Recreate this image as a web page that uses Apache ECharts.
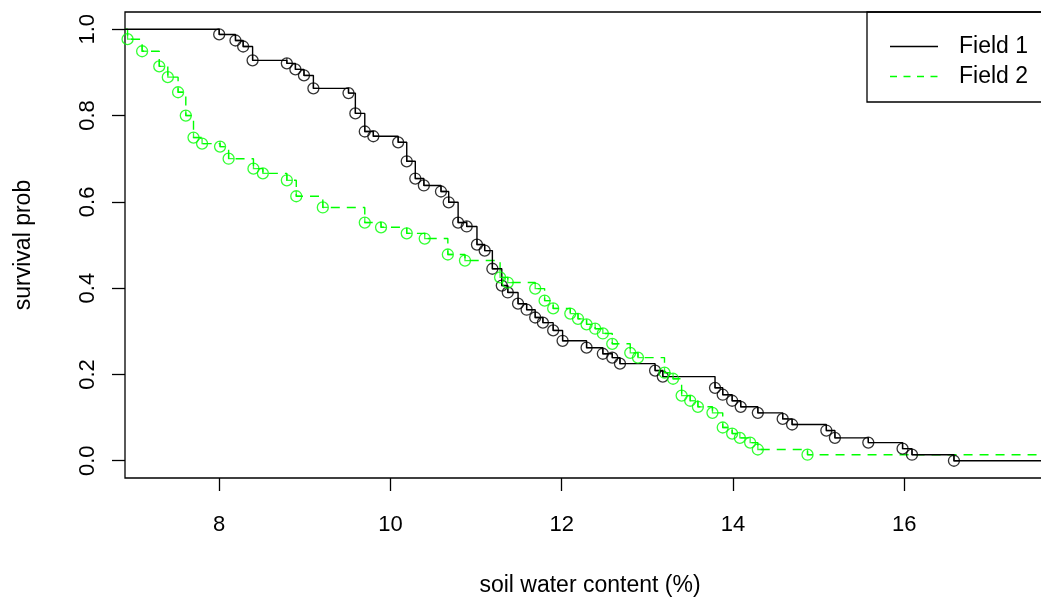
<!DOCTYPE html>
<html>
<head>
<meta charset="utf-8">
<script src="https://cdn.jsdelivr.net/npm/echarts@6/dist/echarts.min.js"></script>
<style>
html,body{margin:0;padding:0;background:#fff;overflow:hidden;}
#chart{width:1041px;height:602px;}
</style>
</head>
<body>
<div id="chart"></div>
<script>
// ---- data ----
const xTicks = [8, 10, 12, 14, 16];
const yTicks = [0, 0.2, 0.4, 0.6, 0.8, 1.0];
const yTickLabels = ['0.0', '0.2', '0.4', '0.6', '0.8', '1.0'];

const field1X = [8.0, 8.19, 8.28, 8.39, 8.79, 8.89, 8.99, 9.10, 9.51, 9.59, 9.70, 9.80, 10.09, 10.19, 10.29, 10.39,
  10.59, 10.68, 10.79, 10.89, 11.01, 11.10, 11.19, 11.30, 11.37, 11.49, 11.59, 11.69, 11.78, 11.90, 12.01,
  12.29, 12.48, 12.59, 12.68, 13.09, 13.18, 13.79, 13.88, 13.99, 14.09, 14.29, 14.58, 14.69, 15.09, 15.19,
  15.58, 15.98, 16.09, 16.58];
const field1S = [0.988, 0.974, 0.960, 0.928, 0.921, 0.907, 0.893, 0.863, 0.852, 0.805, 0.763, 0.752, 0.738, 0.694, 0.654, 0.638,
  0.624, 0.599, 0.552, 0.543, 0.501, 0.487, 0.445, 0.406, 0.390, 0.364, 0.350, 0.332, 0.320, 0.302, 0.278,
  0.262, 0.248, 0.239, 0.225, 0.209, 0.195, 0.169, 0.153, 0.139, 0.125, 0.111, 0.097, 0.084, 0.070, 0.053,
  0.042, 0.028, 0.014, 0.0];

const field2X = [6.93, 7.10, 7.30, 7.40, 7.52, 7.61, 7.70, 7.80, 8.01, 8.11, 8.40, 8.51, 8.79, 8.90, 9.21, 9.70,
  9.89, 10.19, 10.40, 10.67, 10.87, 11.28, 11.37, 11.69, 11.80, 11.90, 12.10, 12.19, 12.29, 12.39, 12.48,
  12.59, 12.80, 12.89, 13.20, 13.30, 13.40, 13.50, 13.59, 13.76, 13.88, 13.99, 14.08, 14.20, 14.29, 14.87];
const field2S = [0.977, 0.949, 0.914, 0.889, 0.854, 0.800, 0.749, 0.735, 0.728, 0.700, 0.677, 0.666, 0.650, 0.613, 0.587, 0.552,
  0.541, 0.527, 0.515, 0.478, 0.464, 0.425, 0.413, 0.399, 0.371, 0.353, 0.341, 0.329, 0.316, 0.306, 0.295,
  0.271, 0.250, 0.239, 0.204, 0.190, 0.151, 0.139, 0.125, 0.111, 0.077, 0.063, 0.053, 0.042, 0.026, 0.014];

const xMin = 6.9, xMax = 17.76, yMin = -0.04, yMax = 1.04;

// ---- build ----
function stepData(xs, ss) {
  const d = [[xMin, 1.0]];
  xs.forEach((x, i) => d.push([x, ss[i]]));
  d.push([xMax, ss[ss.length - 1]]);
  return d;
}
function pts(xs, ss) { return xs.map((x, i) => [x, ss[i]]); }

const TICK_LEN = 13;
const markPath = 'path://M0,5A5,5 0 1,0 10,5A5,5 0 1,0 0,5Z M5,0L5,5L10,5';
const solidIcon = 'path://M0,0H48V1.4H0Z';
const dashIcon = 'path://M0,0H7V1.4H0Z M13.5,0H20.5V1.4H13.5Z M27,0H34V1.4H27Z M40.5,0H47.5V1.4H40.5Z M47.9,0H48V0.01H47.9Z';
const FONT = '"Liberation Sans", Arial, sans-serif';

const chart = echarts.init(document.getElementById('chart'), null, {renderer: 'canvas'});
chart.setOption({
  animation: false,
  grid: {left: 125, top: 12, width: 930, height: 466, outerBoundsMode: 'none',
    show: true, borderColor: '#000', borderWidth: 1.3},
  legend: {
    data: [
      {name: 'Field 1', icon: solidIcon, itemStyle: {color: '#000'}},
      {name: 'Field 2', icon: dashIcon, itemStyle: {color: '#00ff00'}}
    ],
    orient: 'vertical', left: 867, top: 12,
    padding: [23, 20, 14, 23],
    itemGap: 7, itemWidth: 48, itemHeight: 2,
    borderColor: '#000', borderWidth: 1.3,
    textStyle: {fontFamily: FONT, fontSize: 23, color: '#000', lineHeight: 23, padding: [0, 0, 0, 16]}
  },
  xAxis: [
    {
      type: 'value', min: xMin, max: xMax, position: 'bottom',
      name: 'soil water content (%)', nameLocation: 'middle', nameGap: 96,
      nameTextStyle: {fontFamily: FONT, fontSize: 23, color: '#000'},
      axisLine: {show: false, onZero: false},
      splitLine: {show: false},
      axisTick: {show: false},
      axisLabel: {customValues: xTicks, margin: 36, fontFamily: FONT, fontSize: 22, color: '#000'}
    },
    {
      // tick-only axis (same scale)
      type: 'value', min: xMin, max: xMax, position: 'bottom', gridIndex: 0,
      axisLine: {show: false, onZero: false},
      splitLine: {show: false},
      axisLabel: {show: false, customValues: xTicks},
      axisTick: {show: true, length: TICK_LEN, customValues: xTicks, lineStyle: {color: '#000', width: 1.3}}
    }
  ],
  yAxis: [
    {
      type: 'value', min: yMin, max: yMax, position: 'left',
      name: 'survival prob', nameLocation: 'middle', nameGap: 90, nameRotate: 90,
      nameTextStyle: {fontFamily: FONT, fontSize: 23, color: '#000'},
      axisLine: {show: false, onZero: false},
      splitLine: {show: false},
      axisTick: {show: false},
      axisLabel: {customValues: yTicks, rotate: 90, margin: 26, fontFamily: FONT, fontSize: 22, color: '#000',
        formatter: v => { const i = yTicks.findIndex(t => Math.abs(t - v) < 1e-9); return i >= 0 ? yTickLabels[i] : ''; }}
    },
    {
      type: 'value', min: yMin, max: yMax, position: 'left', gridIndex: 0,
      axisLine: {show: false, onZero: false},
      splitLine: {show: false},
      axisLabel: {show: false, customValues: yTicks},
      axisTick: {show: true, length: TICK_LEN, customValues: yTicks, lineStyle: {color: '#000', width: 1.3}}
    }
  ],
  series: [
    {name: 'Field 1', type: 'line', step: 'end', symbol: 'none', data: stepData(field1X, field1S),
      lineStyle: {color: '#000', width: 1.4}, itemStyle: {color: '#000'}, z: 3},
    {name: 'Field 2', type: 'line', step: 'end', symbol: 'none', data: stepData(field2X, field2S),
      lineStyle: {color: '#00ff00', width: 1.4, type: [9, 7]}, itemStyle: {color: '#00ff00'}, z: 2},
    {name: 'f1pts', type: 'scatter', data: pts(field1X, field1S), symbol: markPath, symbolSize: 11, symbolKeepAspect: true,
      itemStyle: {color: 'rgba(0,0,0,0)', borderColor: '#000', borderWidth: 1.3}, z: 4},
    {name: 'f2pts', type: 'scatter', data: pts(field2X, field2S), symbol: markPath, symbolSize: 11, symbolKeepAspect: true,
      itemStyle: {color: 'rgba(0,0,0,0)', borderColor: '#00ff00', borderWidth: 1.3}, z: 4}
  ]
});

// backup outward ticks, positioned through the chart's own scales once rendering is done
let ticksAdded = false;
chart.on('finished', () => {
  if (ticksAdded) return;
  ticksAdded = true;
  try {
    const tickEls = [];
    xTicks.forEach(v => {
      const p = chart.convertToPixel({xAxisIndex: 0, yAxisIndex: 0}, [v, yMin]);
      tickEls.push({type: 'line', z: 50, shape: {x1: p[0], y1: p[1], x2: p[0], y2: p[1] + TICK_LEN},
        style: {stroke: '#000', lineWidth: 1.3}});
    });
    yTicks.forEach(v => {
      const p = chart.convertToPixel({xAxisIndex: 0, yAxisIndex: 0}, [xMin, v]);
      tickEls.push({type: 'line', z: 50, shape: {x1: p[0] - TICK_LEN, y1: p[1], x2: p[0], y2: p[1]},
        style: {stroke: '#000', lineWidth: 1.3}});
    });
    chart.setOption({graphic: {elements: tickEls}});
  } catch (e) {}
});
</script>
</body>
</html>
